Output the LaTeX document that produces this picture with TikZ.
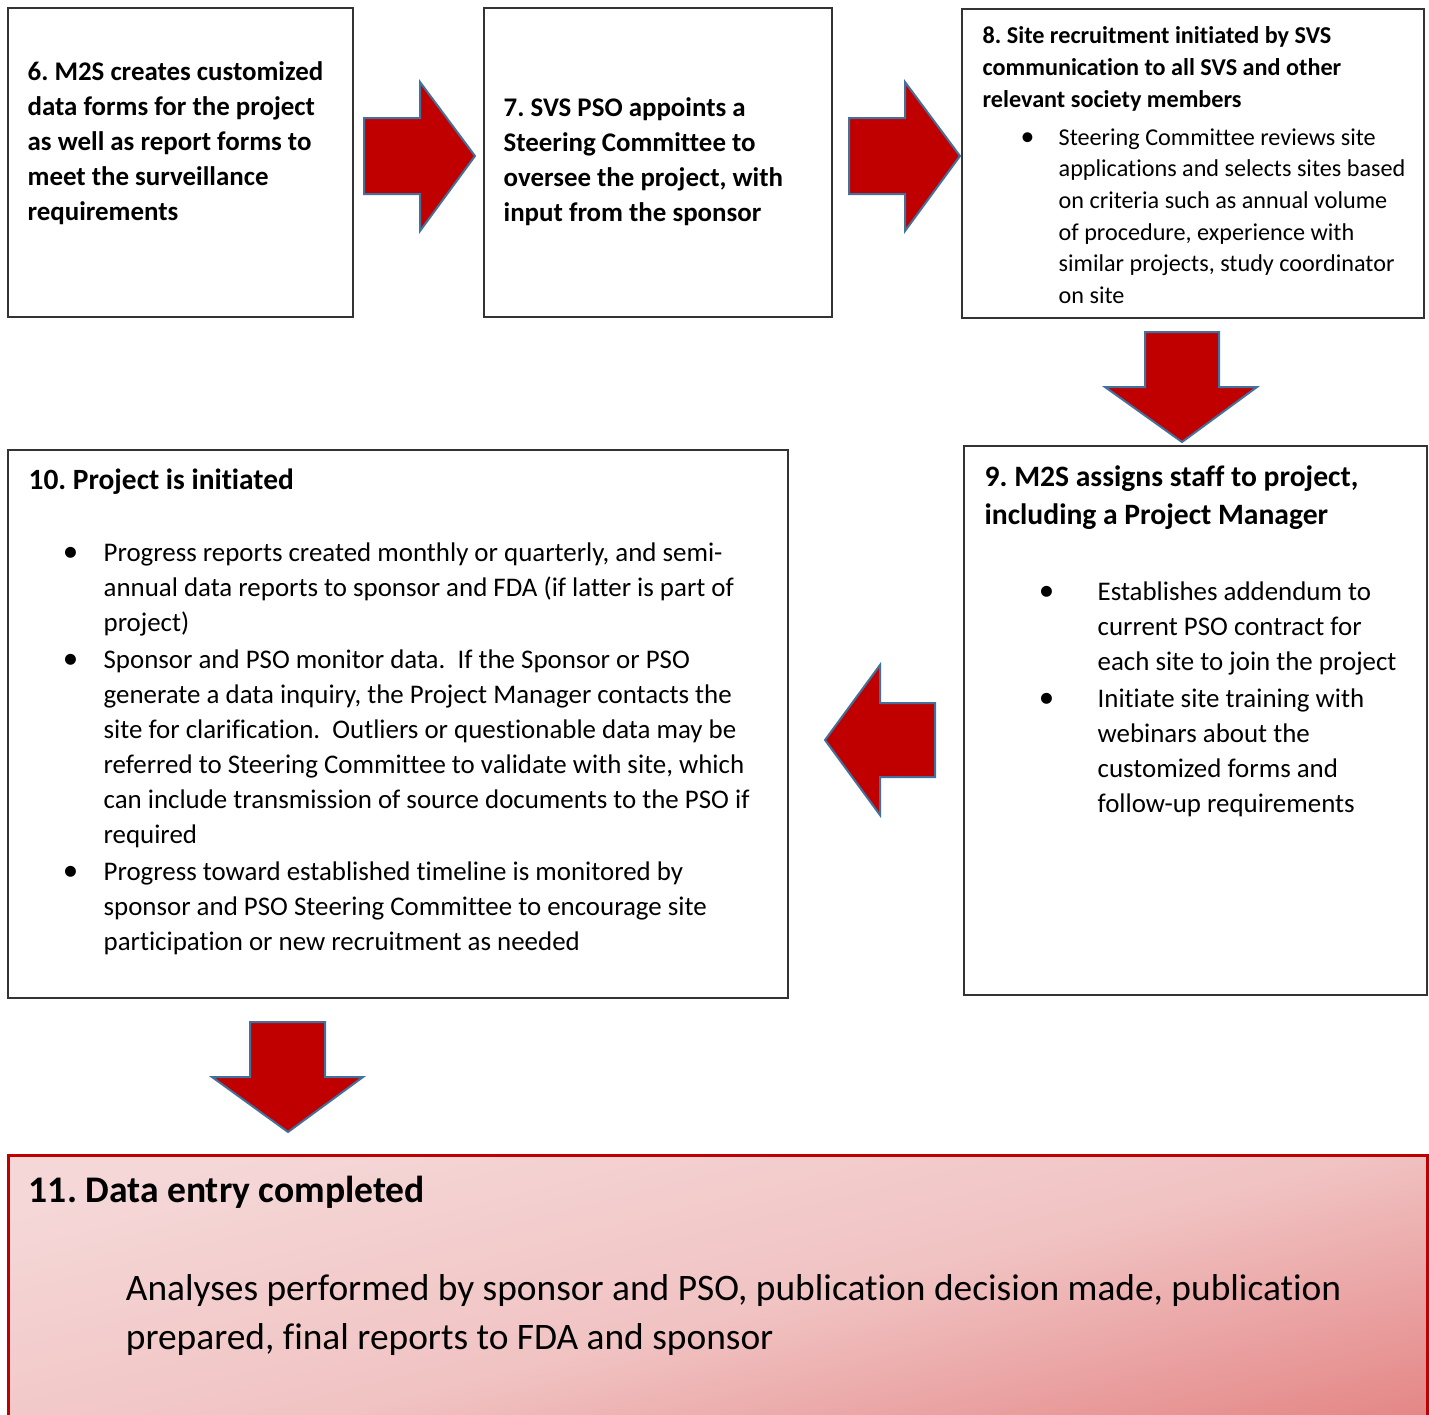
\documentclass[tikz,border=0pt]{standalone}
\usepackage{fontspec}
\setmainfont{Carlito}[Ligatures=NoCommon]
\usetikzlibrary{fit}
\definecolor{arrowred}{HTML}{C00000}
\definecolor{arrowline}{HTML}{41719C}
\definecolor{pinklight}{HTML}{F5D7D7}
\definecolor{pinkmid}{HTML}{F1C3C3}
\definecolor{pinkdark}{HTML}{E48585}
\newcommand\bul{\makebox[0pt]{\scalebox{1.15}{\textbullet}}}
\frenchspacing
\begin{document}
\begin{tikzpicture}[x=0.5pt,y=-0.5pt,
  stepbox/.style={draw=black!80,line width=0.75pt,inner sep=0pt,fill=white},
  endbox/.style={draw=arrowred,line width=1.5pt,inner sep=0pt,
    top color=pinklight,bottom color=pinkdark,middle color=pinkmid,shading angle=14},
  txt/.style={inner sep=0pt,anchor=base west,align=left},
  blockarrow/.style={fill=arrowred,draw=arrowline,line width=1pt,line join=miter}]
\useasboundingbox (0,0) rectangle (1429,1414);
% boxes
\node[stepbox,fit={(8,8) (353,317)}] (b6) {};
\node[stepbox,fit={(484,8) (832,317)}] (b7) {};
\node[stepbox,fit={(962,9) (1424,318)}] (b8) {};
\node[stepbox,fit={(964,446) (1427,995)}] (b9) {};
\node[stepbox,fit={(8,450) (788,998)}] (b10) {};
\node[endbox,fit={(8,1155) (1427,1480)}] (b11) {};
% texts
\node[txt,font=\fontsize{13.45}{17.5}\selectfont\bfseries] (t6) at ([shift={(20,73)}]b6.north west)
  {\begin{tabular}[t]{@{}l@{}}6. M2S creates customized\\data forms for the project\\as well as report forms to\\meet the surveillance\\requirements\end{tabular}};
\node[txt,font=\fontsize{13.45}{17.5}\selectfont\bfseries] (t7) at ([shift={(20,109)}]b7.north west)
  {\begin{tabular}[t]{@{}l@{}}7. SVS PSO appoints a\\Steering Committee to\\oversee the project, with\\input from the sponsor\end{tabular}};
\node[txt,font=\fontsize{12.1}{16}\selectfont\bfseries] (t8) at ([shift={(21,35)}]b8.north west)
  {\begin{tabular}[t]{@{}l@{}}8. Site recruitment initiated by SVS\\communication to all SVS and other\\relevant society members\end{tabular}};
\node[txt,font=\fontsize{12.1}{15.8}\selectfont] (l8) at ([shift={(66,137)}]b8.north west)
  {\begin{tabular}[t]{@{}p{15.5pt}@{}l@{}}\bul & Steering Committee reviews site\\
  & applications and selects sites based\\ & on criteria such as annual volume\\
  & of procedure, experience with\\ & similar projects, study coordinator\\ & on site\end{tabular}};
\node[txt,font=\fontsize{14.8}{19.25}\selectfont\bfseries] (t9) at ([shift={(21,41)}]b9.north west)
  {\begin{tabular}[t]{@{}l@{}}9. M2S assigns staff to project,\\including a Project Manager\end{tabular}};
\node[txt,font=\fontsize{13.45}{17.5}\selectfont] (l9) at ([shift={(83,155)}]b9.north west)
  {\begin{tabular}[t]{@{}p{25.5pt}@{}l@{}}\bul & Establishes addendum to\\ & current PSO contract for\\
  & each site to join the project\\[1pt]
  \bul & Initiate site training with\\ & webinars about the\\ & customized forms and\\
  & follow-up requirements\end{tabular}};
\node[txt,font=\fontsize{14.7}{17.5}\selectfont\bfseries] (t10) at ([shift={(21,40)}]b10.north west)
  {10. Project is initiated};
\node[txt,font=\fontsize{13.45}{17.5}\selectfont] (l10) at ([shift={(63,112)}]b10.north west)
  {\begin{tabular}[t]{@{}p{16.5pt}@{}l@{}}\bul & Progress reports created monthly or quarterly, and semi-\\
  & annual data reports to sponsor and FDA (if latter is part of\\ & project)\\[1pt]
  \bul & Sponsor and PSO monitor data.\ \ If the Sponsor or PSO\\
  & generate a data inquiry, the Project Manager contacts the\\
  & site for clarification.\ \ Outliers or questionable data may be\\
  & referred to Steering Committee to validate with site, which\\
  & can include transmission of source documents to the PSO if\\
  & required\\[1pt]
  \bul & Progress toward established timeline is monitored by\\
  & sponsor and PSO Steering Committee to encourage site\\
  & participation or new recruitment as needed\end{tabular}};
\node[txt,font=\fontsize{18.8}{24.5}\selectfont\bfseries] (t11) at ([shift={(22,49)}]b11.north west)
  {11. Data entry completed};
\node[txt,font=\fontsize{18.7}{24.5}\selectfont] (l11) at ([shift={(119,147)}]b11.north west)
  {\begin{tabular}[t]{@{}l@{}}Analyses performed by sponsor and PSO, publication decision made, publication\\
  prepared, final reports to FDA and sponsor\end{tabular}};
% block arrows
\draw[blockarrow] (364,118) -- (420,118) -- (420,82) -- (475,156) -- (420,231) -- (420,194) -- (364,194) -- cycle;
\draw[blockarrow] (849,118) -- (905,118) -- (905,82) -- (960,156) -- (905,231) -- (905,194) -- (849,194) -- cycle;
\draw[blockarrow] (1145,332) -- (1219,332) -- (1219,387) -- (1257,387) -- (1182,442) -- (1105,387) -- (1145,387) -- cycle;
\draw[blockarrow] (935,703) -- (880,703) -- (880,665) -- (825,740) -- (880,815) -- (880,777) -- (935,777) -- cycle;
\draw[blockarrow] (250,1022) -- (325,1022) -- (325,1077) -- (363,1077) -- (288,1132) -- (212,1077) -- (250,1077) -- cycle;
\end{tikzpicture}
\end{document}
